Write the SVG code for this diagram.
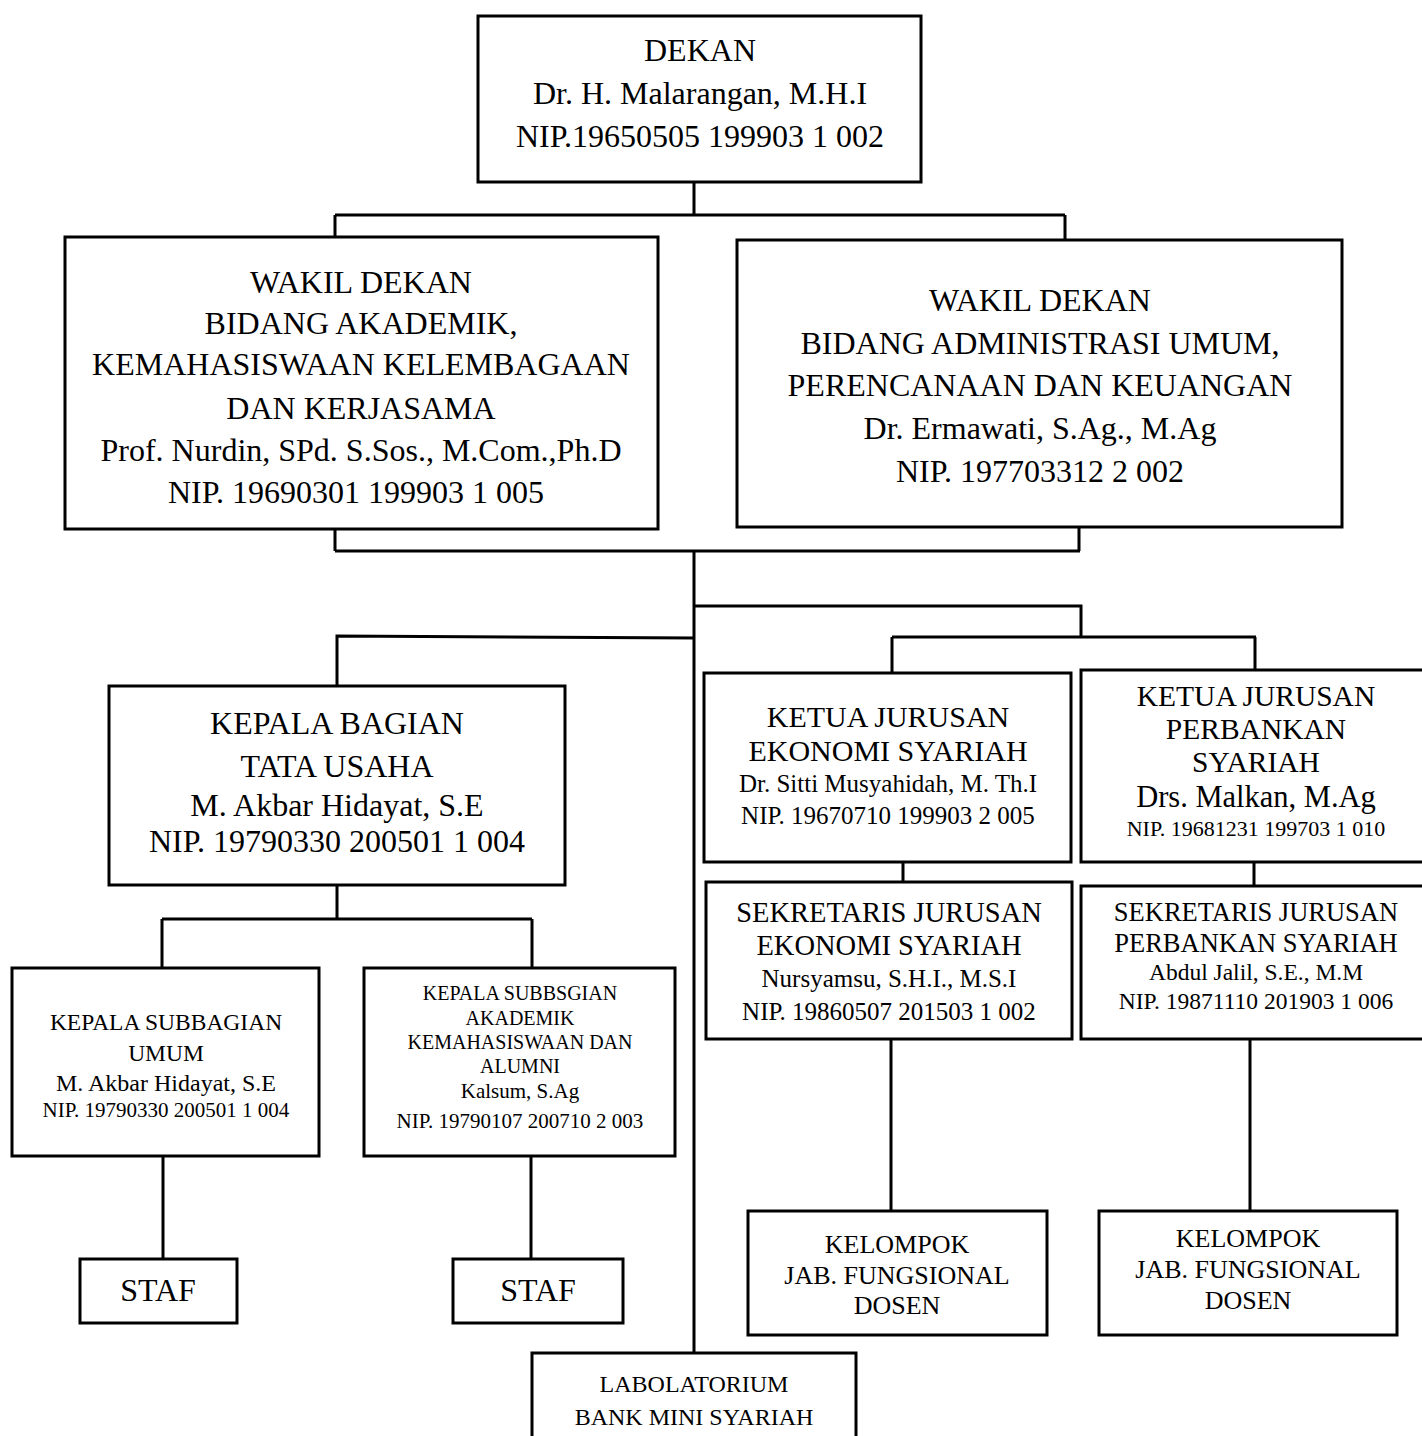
<svg xmlns="http://www.w3.org/2000/svg" width="1422" height="1436" viewBox="0 0 1422 1436">
<style>
.box{fill:#fff;stroke:#000;stroke-width:3}
.ln{fill:none;stroke:#000;stroke-width:3}
text{font-family:"Liberation Serif","Times New Roman",serif;fill:#000;text-anchor:middle}
</style>
<rect width="1422" height="1436" fill="#fff"/>
<g id="connectors">
<path class="ln" d="M694 182V215M335 215H1065M335 215V237M1065 215V240"/>
<path class="ln" d="M335 529V551M1079 527V551M335 551H1080M694 551V1353"/>
<path class="ln" d="M694 638L337 636V686"/>
<path class="ln" d="M694 606H1081V637M892 637H1256M892 637V673M1255 637V670"/>
<path class="ln" d="M337 885V919M162 919H532M162 919V968M532 919V968"/>
<path class="ln" d="M163 1156V1259M531 1156V1259"/>
<path class="ln" d="M903 862V882M1254 862V886"/>
<path class="ln" d="M891 1039V1211M1250 1039V1211"/>
</g>
<g id="dekan">
<rect class="box" x="478" y="16" width="443" height="166"/>
<text font-size="32"><tspan x="700" y="61">DEKAN</tspan><tspan x="700" y="104">Dr. H. Malarangan, M.H.I</tspan><tspan x="700" y="147">NIP.19650505 199903 1 002</tspan></text>
</g>
<g id="wakil-akademik">
<rect class="box" x="65" y="237" width="593" height="292"/>
<text font-size="32"><tspan x="361" y="293">WAKIL DEKAN</tspan><tspan x="361" y="334">BIDANG AKADEMIK,</tspan><tspan x="361" y="375">KEMAHASISWAAN KELEMBAGAAN</tspan><tspan x="361" y="419">DAN KERJASAMA</tspan><tspan x="361" y="461">Prof. Nurdin, SPd. S.Sos., M.Com.,Ph.D</tspan><tspan x="356" y="503">NIP. 19690301 199903 1 005</tspan></text>
</g>
<g id="wakil-administrasi">
<rect class="box" x="737" y="240" width="605" height="287"/>
<text font-size="32"><tspan x="1040" y="311">WAKIL DEKAN</tspan><tspan x="1040" y="354">BIDANG ADMINISTRASI UMUM,</tspan><tspan x="1040" y="396">PERENCANAAN DAN KEUANGAN</tspan><tspan x="1040" y="439">Dr. Ermawati, S.Ag., M.Ag</tspan><tspan x="1040" y="482">NIP. 197703312 2 002</tspan></text>
</g>
<g id="kabag-tu">
<rect class="box" x="109" y="686" width="456" height="199"/>
<text font-size="32"><tspan x="337" y="734">KEPALA BAGIAN</tspan><tspan x="337" y="777">TATA USAHA</tspan><tspan x="337" y="816">M. Akbar Hidayat, S.E</tspan><tspan x="337" y="852">NIP. 19790330 200501 1 004</tspan></text>
</g>
<g id="ketua-ekonomi">
<rect class="box" x="704" y="673" width="367" height="189"/>
<text><tspan x="888" y="727" font-size="30">KETUA JURUSAN</tspan><tspan x="888" y="761" font-size="30">EKONOMI SYARIAH</tspan><tspan x="888" y="792" font-size="25">Dr. Sitti Musyahidah, M. Th.I</tspan><tspan x="888" y="824" font-size="25">NIP. 19670710 199903 2 005</tspan></text>
</g>
<g id="ketua-perbankan">
<rect class="box" x="1081" y="670" width="345" height="192"/>
<text><tspan x="1256" y="706" font-size="29.5">KETUA JURUSAN</tspan><tspan x="1256" y="739" font-size="29.5">PERBANKAN</tspan><tspan x="1256" y="772" font-size="29.5">SYARIAH</tspan><tspan x="1256" y="807" font-size="30.5">Drs. Malkan, M.Ag</tspan><tspan x="1256" y="836" font-size="22">NIP. 19681231 199703 1 010</tspan></text>
</g>
<g id="sekretaris-ekonomi">
<rect class="box" x="706" y="882" width="366" height="157"/>
<text><tspan x="889" y="922" font-size="28.5">SEKRETARIS JURUSAN</tspan><tspan x="889" y="955" font-size="28.5">EKONOMI SYARIAH</tspan><tspan x="889" y="987" font-size="25">Nursyamsu, S.H.I., M.S.I</tspan><tspan x="889" y="1020" font-size="25">NIP. 19860507 201503 1 002</tspan></text>
</g>
<g id="sekretaris-perbankan">
<rect class="box" x="1081" y="886" width="345" height="153"/>
<text><tspan x="1256" y="921" font-size="26.5">SEKRETARIS JURUSAN</tspan><tspan x="1256" y="952" font-size="26.5">PERBANKAN SYARIAH</tspan><tspan x="1256" y="980" font-size="23.5">Abdul Jalil, S.E., M.M</tspan><tspan x="1256" y="1009" font-size="23.5">NIP. 19871110 201903 1 006</tspan></text>
</g>
<g id="kasubag-umum">
<rect class="box" x="12" y="968" width="307" height="188"/>
<text><tspan x="166" y="1030" font-size="23.5">KEPALA SUBBAGIAN</tspan><tspan x="166" y="1061" font-size="23.5">UMUM</tspan><tspan x="166" y="1091" font-size="24">M. Akbar Hidayat, S.E</tspan><tspan x="166" y="1117" font-size="21">NIP. 19790330 200501 1 004</tspan></text>
</g>
<g id="kasubag-akademik">
<rect class="box" x="364" y="968" width="311" height="188"/>
<text font-size="20"><tspan x="520" y="1000">KEPALA SUBBSGIAN</tspan><tspan x="520" y="1025">AKADEMIK</tspan><tspan x="520" y="1049">KEMAHASISWAAN DAN</tspan><tspan x="520" y="1073">ALUMNI</tspan><tspan x="520" y="1098" font-size="21">Kalsum, S.Ag</tspan><tspan x="520" y="1128" font-size="21">NIP. 19790107 200710 2 003</tspan></text>
</g>
<g id="staf-1">
<rect class="box" x="80" y="1259" width="157" height="64"/>
<text font-size="32" x="158" y="1301">STAF</text>
</g>
<g id="staf-2">
<rect class="box" x="453" y="1259" width="170" height="64"/>
<text font-size="32" x="538" y="1301">STAF</text>
</g>
<g id="kelompok-ekonomi">
<rect class="box" x="748" y="1211" width="299" height="124"/>
<text font-size="26"><tspan x="897" y="1253">KELOMPOK</tspan><tspan x="897" y="1284">JAB. FUNGSIONAL</tspan><tspan x="897" y="1314">DOSEN</tspan></text>
</g>
<g id="kelompok-perbankan">
<rect class="box" x="1099" y="1211" width="298" height="124"/>
<text font-size="26"><tspan x="1248" y="1247">KELOMPOK</tspan><tspan x="1248" y="1278">JAB. FUNGSIONAL</tspan><tspan x="1248" y="1309">DOSEN</tspan></text>
</g>
<g id="labolatorium">
<rect class="box" x="532" y="1353" width="324" height="100"/>
<text font-size="24"><tspan x="694" y="1392">LABOLATORIUM</tspan><tspan x="694" y="1425">BANK MINI SYARIAH</tspan></text>
</g>
</svg>
